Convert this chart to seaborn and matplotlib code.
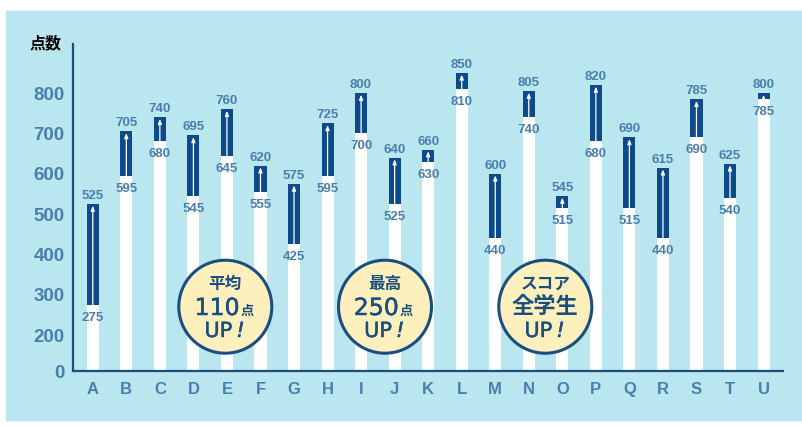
import numpy as np
import matplotlib
matplotlib.use('Agg')
import matplotlib.pyplot as plt
import matplotlib.patheffects as pe
from matplotlib.patches import Rectangle, Circle
import seaborn as sns

# Scores before / after for each student
students = ['A', 'B', 'C', 'D', 'E', 'F', 'G', 'H', 'I', 'J', 'K',
            'L', 'M', 'N', 'O', 'P', 'Q', 'R', 'S', 'T', 'U']
before = [275, 595, 680, 545, 645, 555, 425, 595, 700, 525, 630,
          810, 440, 740, 515, 680, 515, 440, 690, 540, 785]
after = [525, 705, 740, 695, 760, 620, 575, 725, 800, 640, 660,
         850, 600, 805, 545, 820, 690, 615, 785, 625, 800]
yticks = [0, 200, 300, 400, 500, 600, 700, 800]

# badge texts
badges = [('平均', '110', '点', 'UP'),
          ('最高', '250', '点', 'UP'),
          ('スコア', '全学生', '', 'UP')]

PANEL = '#bae6f0'
DARK = '#0d4a8a'
NAVY = '#1a4e80'
STEEL = '#4a7eae'

sns.set_style('white')
plt.rcParams['font.family'] = ['Liberation Sans', 'Noto Sans CJK JP']

W, H = 803, 428
fig = plt.figure(figsize=(W / 100, H / 100), dpi=100)
fig.patch.set_facecolor('white')
fig.add_artist(Rectangle((6 / W, 8 / H), (W - 6) / W, (420 - 11) / H,
                         transform=fig.transFigure, color=PANEL, zorder=-1))

ax = fig.add_axes([73 / W, 1 - 371 / H, (783 - 73) / W, (371 - 43.5) / H])
ax.set_facecolor('none')

# dark bar up to new score, white bar over it up to old score
sns.barplot(x=students, y=after, color=DARK, saturation=1, width=0.36,
            linewidth=0, ax=ax)
sns.barplot(x=students, y=before, color='white', saturation=1, width=0.36,
            linewidth=0, ax=ax)

# compressed axis below 200
c = 88.6


def fwd(v):
    v = np.asarray(v, dtype=float)
    return np.where(v < 200, v * c / 200, v - 200 + c)


def inv(u):
    u = np.asarray(u, dtype=float)
    return np.where(u < c, u * 200 / c, u + 200 - c)


ax.set_yscale('function', functions=(fwd, inv))
ax.set_ylim(0, 922.8)
ax.set_xlim(-0.59, 20.58)

for i, (b, a) in enumerate(zip(before, after)):
    ax.annotate('', xy=(i, a), xytext=(i, b),
                arrowprops=dict(arrowstyle='-|>,head_length=0.35,head_width=0.14',
                                color='white', lw=0.9, shrinkA=0, shrinkB=1.2,
                                mutation_scale=8))
    ax.annotate(str(a), xy=(i, a), xytext=(0, 3.6), textcoords='offset points',
                ha='center', va='baseline', fontsize=9.5, fontweight='bold',
                color=STEEL)
    ax.annotate(str(b), xy=(i, b), xytext=(0, -11.5), textcoords='offset points',
                ha='center', va='baseline', fontsize=9.5, fontweight='bold',
                color=STEEL)

ax.set_yticks(yticks)
ax.set_yticklabels([str(t) for t in yticks])
ax.tick_params(axis='y', length=0, pad=6, labelsize=13.5, labelcolor=STEEL)
ax.tick_params(axis='x', length=0, pad=8, labelsize=12, labelcolor=STEEL)
for lab in ax.get_xticklabels() + ax.get_yticklabels():
    lab.set_fontweight('bold')
ax.set_xlabel('')
ax.set_ylabel('')
for s in ['top', 'right']:
    ax.spines[s].set_visible(False)
for s in ['left', 'bottom']:
    ax.spines[s].set_color(NAVY)
    ax.spines[s].set_linewidth(1.6)

fig.text(46 / W, 1 - 43 / H, '点数', ha='center', va='center', fontsize=11.5,
         fontweight='bold', color='black', family=['Noto Sans CJK JP'])

# badges
thick = [pe.withStroke(linewidth=0.35, foreground=NAVY)]
centers = [225.3, 385.0, 545.3]
cy = 306.7
for (top, mid, unit, bottom), cx in zip(badges, centers):
    fig.add_artist(Circle((cx / 100, (H - cy) / 100), 0.465,
                          transform=fig.dpi_scale_trans, facecolor='#fdf0bc',
                          edgecolor=NAVY, lw=2.2, zorder=5))
    fig.text(cx / W, 1 - 284 / H, top, ha='center', va='center', fontsize=12,
             fontweight='bold', color=NAVY, zorder=6,
             family=['Noto Sans CJK JP'])
    if unit:
        fig.text((cx + 14) / W, 1 - 315 / H, mid, ha='right', va='baseline',
                 fontsize=17, color=NAVY, zorder=6, family=['DejaVu Sans'],
                 path_effects=thick)
        fig.text((cx + 15) / W, 1 - 315 / H, unit, ha='left', va='baseline',
                 fontsize=9.5, fontweight='bold', color=NAVY, zorder=6,
                 family=['Noto Sans CJK JP'])
    else:
        fig.text(cx / W, 1 - cy / H, mid, ha='center', va='center', fontsize=16,
                 fontweight='bold', color=NAVY, zorder=6,
                 family=['Noto Sans CJK JP'])
    fig.text((cx + 7) / W, 1 - 337 / H, bottom, ha='right', va='baseline',
             fontsize=15, color=NAVY, zorder=6, family=['DejaVu Sans'],
             path_effects=thick)
    fig.text((cx + 11) / W, 1 - 337 / H, '!', ha='left', va='baseline',
             fontsize=15, style='italic', color=NAVY, zorder=6,
             family=['DejaVu Sans'], path_effects=thick)

fig.savefig('out.png', dpi=100)
